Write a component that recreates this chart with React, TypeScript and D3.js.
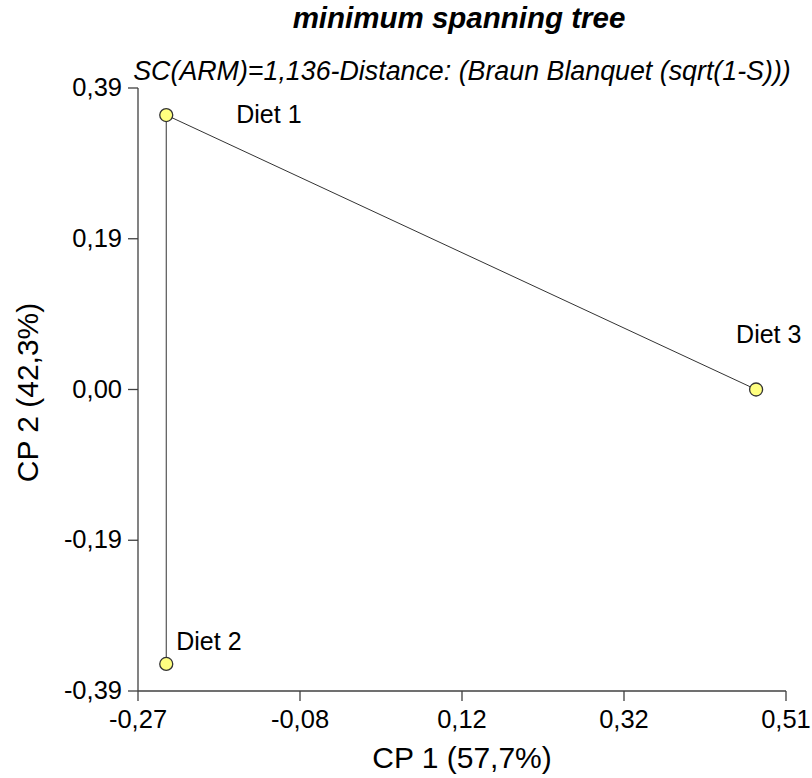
import React from "react";
import * as d3 from "d3";

const TITLE = "minimum spanning tree";
const SUBTITLE = "SC(ARM)=1,136-Distance: (Braun Blanquet (sqrt(1-S)))";
const X_LABEL = "CP 1 (57,7%)";
const Y_LABEL = "CP 2 (42,3%)";

const pointNames = ["Diet 1", "Diet 2", "Diet 3"];
const pointX = [-0.236, -0.236, 0.474];
const pointY = [0.355, -0.355, 0.0];

// minimum spanning tree edges (indices into points)
const edgeFrom = [0, 0];
const edgeTo = [1, 2];

const xDomain = [-0.27, 0.51];
const yDomain = [-0.39, 0.39];
const xTickValues = [-0.27, -0.075, 0.12, 0.315, 0.51];
const xTickLabels = ["-0,27", "-0,08", "0,12", "0,32", "0,51"];
const yTickValues = [0.39, 0.195, 0.0, -0.195, -0.39];
const yTickLabels = ["0,39", "0,19", "0,00", "-0,19", "-0,39"];

// label offsets per point [dx, dy] relative to point
const labelDx = [70, 10, -20];
const labelDy = [8, -14, -47];

export default function App() {
  const W = 812;
  const H = 778;
  const left = 138;
  const right = 786;
  const top = 88;
  const bottom = 691;

  const x = d3.scaleLinear().domain(xDomain).range([left, right]);
  const y = d3.scaleLinear().domain(yDomain).range([bottom, top]);

  const font = "Arial, 'Liberation Sans', Helvetica, sans-serif";
  const axisColor = "#404040";

  return (
    <svg
      width={W}
      height={H}
      style={{ position: "absolute", left: 0, top: 0, background: "#fff" }}
      fontFamily={font}
    >
      <rect x={0} y={0} width={W} height={H} fill="#fff" />
      <text x={459} y={28} textAnchor="middle" fontSize={29.5} fontWeight="bold" fontStyle="italic" fill="#000">
        {TITLE}
      </text>
      <text x={462} y={80} textAnchor="middle" fontSize={26.8} fontStyle="italic" fill="#000">
        {SUBTITLE}
      </text>

      {/* axes */}
      <line x1={left} x2={left} y1={top} y2={bottom} stroke={axisColor} strokeWidth={1.3} />
      <line x1={left} x2={right} y1={bottom} y2={bottom} stroke={axisColor} strokeWidth={1.3} />
      {xTickValues.map((v, i) => (
        <g key={"xt" + i}>
          <line x1={x(v)} x2={x(v)} y1={bottom} y2={bottom + 10} stroke={axisColor} strokeWidth={1.3} />
          <text x={x(v)} y={728} textAnchor="middle" fontSize={25.5} fill="#000">
            {xTickLabels[i]}
          </text>
        </g>
      ))}
      {yTickValues.map((v, i) => (
        <g key={"yt" + i}>
          <line x1={left - 10} x2={left} y1={y(v)} y2={y(v)} stroke={axisColor} strokeWidth={1.3} />
          <text x={122} y={y(v) + 8} textAnchor="end" fontSize={25.5} fill="#000">
            {yTickLabels[i]}
          </text>
        </g>
      ))}
      <text x={(left + right) / 2} y={768} textAnchor="middle" fontSize={30} fill="#000">
        {X_LABEL}
      </text>
      <text
        transform={`translate(38, ${(top + bottom) / 2 + 3}) rotate(-90)`}
        textAnchor="middle"
        fontSize={30}
        fill="#000"
      >
        {Y_LABEL}
      </text>

      {/* edges */}
      {edgeFrom.map((f, i) => (
        <line
          key={"e" + i}
          x1={x(pointX[f])}
          y1={y(pointY[f])}
          x2={x(pointX[edgeTo[i]])}
          y2={y(pointY[edgeTo[i]])}
          stroke="#333"
          strokeWidth={1}
        />
      ))}

      {/* points */}
      {pointNames.map((n, i) => (
        <g key={"p" + i}>
          <circle cx={x(pointX[i])} cy={y(pointY[i])} r={6.5} fill="#ffff80" stroke="#333" strokeWidth={1.3} />
          <text x={x(pointX[i]) + labelDx[i]} y={y(pointY[i]) + labelDy[i]} fontSize={25} fill="#000">
            {n}
          </text>
        </g>
      ))}
    </svg>
  );
}
